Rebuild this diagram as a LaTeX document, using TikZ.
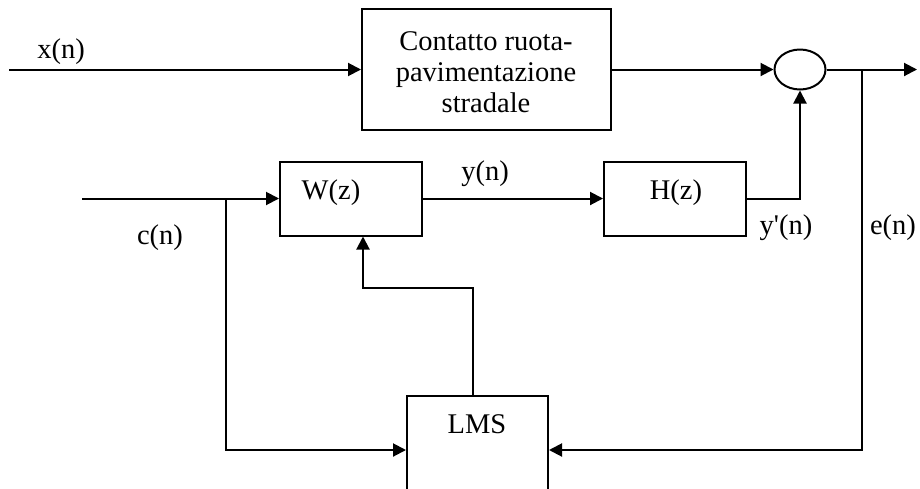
\documentclass[tikz,border=0pt]{standalone}
\usepackage{fontspec}
\setmainfont{Liberation Serif}
\usetikzlibrary{arrows.meta,shapes.geometric}
\begin{document}
\begin{tikzpicture}[x=1pt,y=-1pt,
  blk/.style={draw,line width=2pt,rectangle,inner sep=0pt},
  lbl/.style={font=\fontsize{28.5}{31}\selectfont,inner sep=0pt},
  wire/.style={line width=2pt},
  arr/.style={line width=2pt,-{Triangle[length=13pt,width=13pt]}}]
\useasboundingbox (0,0) rectangle (920,488);
\clip (0,0) rectangle (920,488);
% blocks
\node[blk,minimum width=249pt,minimum height=121pt] (plant) at (486.5,69.5) {};
\node[draw,line width=2pt,ellipse,inner sep=0pt,minimum width=51pt,minimum height=40pt] (sum) at (800,69.5) {};
\node[blk,minimum width=142pt,minimum height=74pt] (W) at (351,198.5) {};
\node[blk,minimum width=142pt,minimum height=74pt] (H) at (675,198.5) {};
\node[blk,minimum width=141pt,minimum height=120pt] (LMS) at (477.5,456) {};
% block texts
\node[lbl,align=center] (tplant) at (486,72) {Contatto ruota-\\pavimentazione\\stradale};
\node[lbl] (tW) at (331,193) {W(z)};
\node[lbl] (tH) at (676,193) {H(z)};
\node[lbl] (tLMS) at (477,424) {LMS};
% signal labels
\node[lbl] (lx) at (61,52) {x(n)};
\node[lbl] (lc) at (160,238) {c(n)};
\node[lbl] (ly) at (485,174) {y(n)};
\node[lbl] (lyp) at (786,228) {y\textquotesingle(n)};
\node[lbl] (le) at (893,228) {e(n)};
% coordinates
\coordinate (xin) at (9,69.5);
\coordinate (out) at (917,69.5);
\coordinate (je) at (862,69.5);
\coordinate (ebot) at (862,450);
\coordinate (cin) at (82,198.5);
\coordinate (jc) at (226,198.5);
\coordinate (fb1) at (473,288);
\coordinate (fb2) at (363,288);
\coordinate (yc) at (800,198.5);
% connectors
\draw[arr] (xin) -- (plant.west);
\draw[arr] (plant.east) -- (sum.west);
\draw[arr] (sum.east) -- (out);
\draw[arr] (je) -- (ebot) -- (ebot -| LMS.east);
\draw[arr] (cin) -- (W.west);
\draw[arr] (jc) |- (ebot -| LMS.west);
\draw[arr] (LMS.north -| fb1) -- (fb1) -- (fb2) -- (fb2 |- W.south);
\draw[arr] (W.east) -- (H.west);
\draw[arr] (H.east) -- (yc) -- (sum.south);
\end{tikzpicture}
\end{document}
